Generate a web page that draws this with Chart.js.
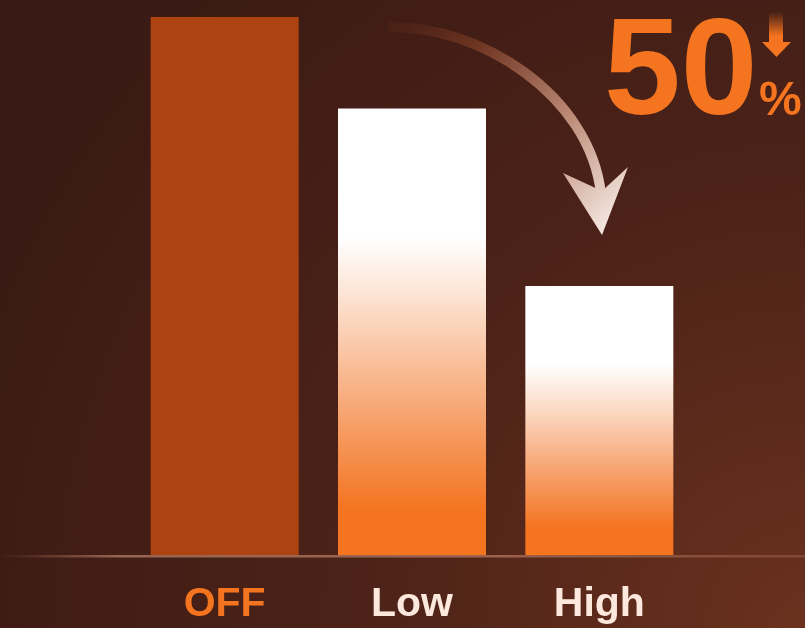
<!DOCTYPE html>
<html>
<head>
<meta charset="utf-8">
<script src="https://cdn.jsdelivr.net/npm/chart.js@4.4.0/dist/chart.umd.min.js"></script>
<style>
  html, body { margin: 0; padding: 0; }
  body {
    width: 805px; height: 628px; overflow: hidden;
    background: radial-gradient(circle at 100% 100%, #6a311e 0px, #4c2218 450px, #3a1a14 900px);
  }
  #wrap { position: relative; width: 805px; height: 628px; }
</style>
</head>
<body>
<div id="wrap"><canvas id="barChart"></canvas></div>
<script>
// du lieu bieu do
const modeLabels = ['OFF', 'Low', 'High'];
const powerValues = [100, 83, 50];
const labelColors = ['#F47420', '#FCE8DC', '#FCE8DC'];
const reductionText = '50';

const FONT = "'Liberation Sans', Arial, sans-serif";
const ORANGE = '#F47420';

// gradient trang -> cam theo chieu cao tung cot
function barFill(context) {
    if (context.dataIndex === 0) return '#AD4310';
    const chart = context.chart;
    const yScale = chart.scales.y;
    if (!chart.chartArea || !yScale) return ORANGE;
    const top = yScale.getPixelForValue(powerValues[context.dataIndex]);
    const base = yScale.getPixelForValue(0);
    const g = chart.ctx.createLinearGradient(0, top, 0, base);
    g.addColorStop(0, '#FFFFFF');
    g.addColorStop(0.29, '#FFFFFF');
    g.addColorStop(0.45, '#FCDCC8');
    g.addColorStop(0.7, '#F6A06A');
    g.addColorStop(0.9, ORANGE);
    g.addColorStop(1, ORANGE);
    return g;
}

// duong day + mui ten cong + chu 50%
const decorPlugin = {
    id: 'decor',
    afterDatasetsDraw(chart) {
        const ctx = chart.ctx;
        const base = chart.scales.y.getPixelForValue(0);
        ctx.save();

        // duong day ngang
        const lg = ctx.createLinearGradient(0, 0, chart.width, 0);
        lg.addColorStop(0, 'rgba(190,130,105,0)');
        lg.addColorStop(0.15, 'rgba(200,140,115,0.65)');
        lg.addColorStop(0.6, 'rgba(220,150,120,0.55)');
        lg.addColorStop(1, 'rgba(190,130,105,0.3)');
        ctx.fillStyle = lg;
        ctx.fillRect(0, base, chart.width, 2.5);

        // mui ten cong
        const ag = ctx.createLinearGradient(388, 27, 602, 235);
        ag.addColorStop(0, 'rgba(90,40,25,0.35)');
        ag.addColorStop(0.25, 'rgba(115,55,35,0.9)');
        ag.addColorStop(0.65, 'rgba(190,140,120,1)');
        ag.addColorStop(1, 'rgba(245,232,226,1)');
        ctx.strokeStyle = ag;
        ctx.lineWidth = 10;
        ctx.lineCap = 'butt';
        ctx.beginPath();
        ctx.moveTo(388, 27);
        ctx.bezierCurveTo(480, 25, 590, 95, 601, 194);
        ctx.stroke();
        ctx.fillStyle = ag;
        ctx.beginPath();
        ctx.moveTo(602, 235);
        ctx.lineTo(563, 173);
        ctx.lineTo(602, 191);
        ctx.lineTo(628, 167);
        ctx.closePath();
        ctx.fill();

        // chu 50 %
        ctx.fillStyle = ORANGE;
        ctx.textBaseline = 'alphabetic';
        ctx.textAlign = 'left';
        ctx.font = 'bold 138px ' + FONT;
        ctx.fillText(reductionText, 604, 114);
        ctx.font = 'bold 48px ' + FONT;
        ctx.fillText('%', 759, 115);

        // mui ten nho
        const sg = ctx.createLinearGradient(0, 12, 0, 36);
        sg.addColorStop(0, 'rgba(244,116,32,0)');
        sg.addColorStop(1, ORANGE);
        ctx.fillStyle = sg;
        ctx.fillRect(769, 12, 14, 31);
        ctx.fillStyle = ORANGE;
        ctx.beginPath();
        ctx.moveTo(762, 42);
        ctx.lineTo(791, 42);
        ctx.lineTo(776.5, 57);
        ctx.closePath();
        ctx.fill();

        ctx.restore();
    }
};

const ctx = document.getElementById('barChart').getContext('2d');
new Chart(ctx, {
    type: 'bar',
    data: {
        labels: modeLabels,
        datasets: [{
            data: powerValues,
            backgroundColor: barFill,
            borderWidth: 0,
            categoryPercentage: 1,
            barPercentage: 0.79
        }]
    },
    options: {
        responsive: true,
        maintainAspectRatio: false,
        animation: false,
        events: [],
        layout: { padding: { left: 131, right: 112, top: 17, bottom: 0 } },
        scales: {
            x: {
                grid: { display: false, drawTicks: false },
                border: { display: false },
                ticks: {
                    padding: 25,
                    color: c => labelColors[c.index],
                    font: { family: FONT, size: 41, weight: 'bold' }
                },
                afterFit: s => { s.height = 73; }
            },
            y: {
                display: false,
                min: 0,
                max: 100
            }
        },
        plugins: {
            legend: { display: false },
            tooltip: { enabled: false }
        }
    },
    plugins: [decorPlugin]
});
</script>
</body>
</html>
